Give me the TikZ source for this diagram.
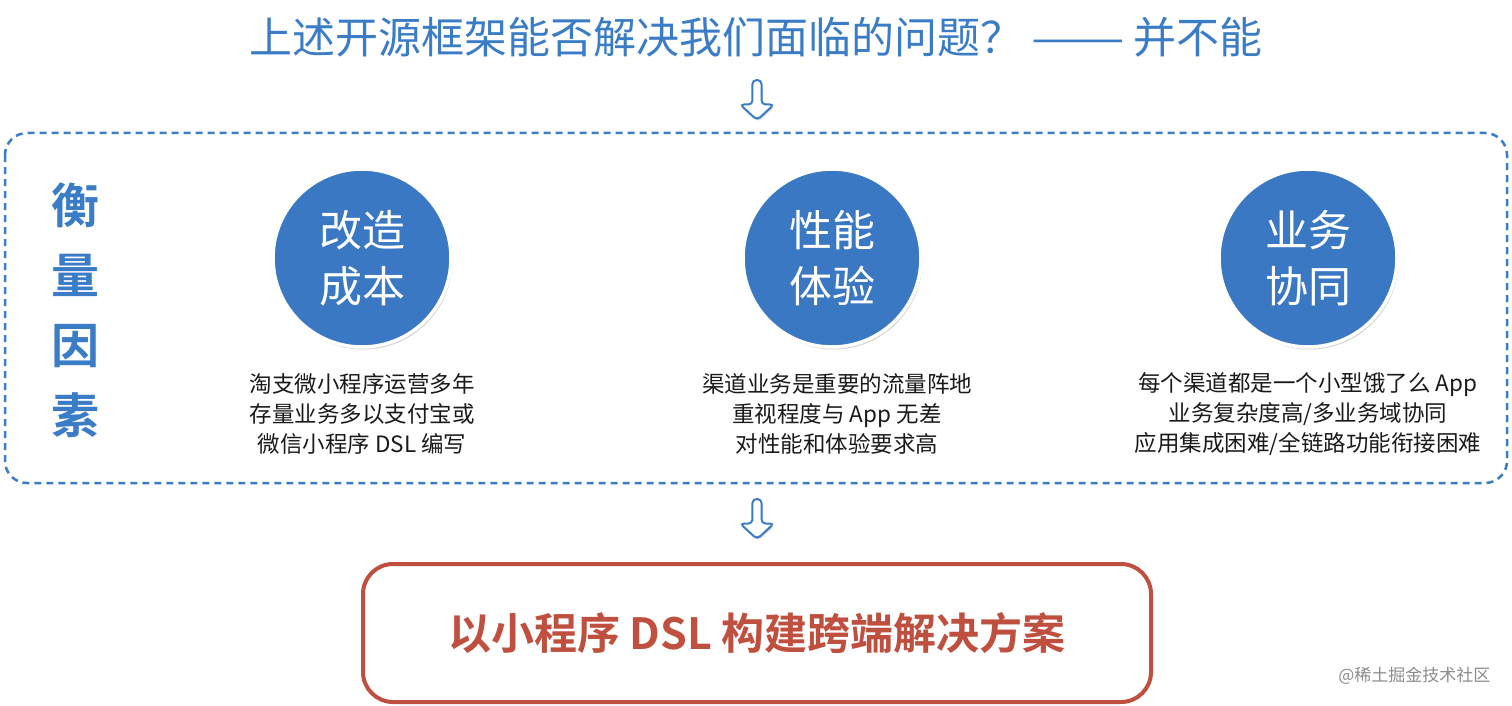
\documentclass[tikz,border=0pt]{standalone}
\usepackage{fontspec}
\usepackage{graphicx}
\newfontfamily\cjk{Noto Sans CJK SC}
\newfontfamily\cjkb{Noto Sans CJK SC Bold}
\usetikzlibrary{shapes.arrows,shadows}
\definecolor{tblue}{HTML}{3B7CC6}
\definecolor{cblue}{HTML}{3A78C3}
\definecolor{tred}{HTML}{BF4F3F}
\definecolor{ttext}{HTML}{1A1A1A}
\tikzset{
  downarrow/.style={shape=single arrow, rotate=270, draw=tblue, fill=white, line width=2pt,
    minimum height=40pt, minimum width=34pt, single arrow head extend=11pt,
    single arrow tip angle=95, rounded corners=4pt, inner sep=3pt,
    drop shadow={shadow xshift=1pt, shadow yshift=-2pt, opacity=0.35}},
  topic/.style={circle, fill=cblue, draw=white, line width=3.5pt, minimum size=178pt,
    text=white, font=\cjk\fontsize{43}{56}\selectfont, align=center, inner sep=0pt,
    drop shadow={shadow xshift=1.5pt, shadow yshift=-2.5pt, opacity=0.35}},
  desc/.style={text=ttext, font=\cjk\fontsize{22.5}{30}\selectfont, align=center},
}
\begin{document}
\begin{tikzpicture}[x=1pt,y=-1pt]
\useasboundingbox (0,0) rectangle (1512,706);
\node[text=tblue, font=\cjk\fontsize{43}{50}\selectfont] (title) at (756,37) {上述开源框架能否解决我们面临的问题？\hspace{0.2em}\scalebox{1.3}[1]{——}\hspace{0.2em}并不能};
\node[downarrow] (a1) at (757,98) {};
\draw[tblue, line width=2.5pt, dash pattern=on 7pt off 5pt, rounded corners=22pt] (5,133) rectangle (1507,483);
\node[text=tblue, font=\cjkb\fontsize{48}{70}\selectfont, align=center] (factor) at (75,310) {衡\\量\\因\\素};
\node[topic] (c1) at (362,258) {改造\\成本};
\node[topic] (c2) at (832,258) {性能\\体验};
\node[topic] (c3) at (1308,258) {业务\\协同};
\node[desc] (d1) at (362,414) {淘支微小程序运营多年\\存量业务多以支付宝或\\微信小程序 DSL 编写};
\node[desc] (d2) at (837,414) {渠道业务是重要的流量阵地\\重视程度与 App 无差\\对性能和体验要求高};
\node[desc] (d3) at (1308,414) {每个渠道都是一个小型饿了么 App\\业务复杂度高/多业务域协同\\应用集成困难/全链路功能衔接困难};
\node[downarrow] (a2) at (757,517) {};
\node[draw=tred, line width=4pt, rounded corners=30pt, minimum width=788pt, minimum height=138pt,
  text=tred, font=\cjkb\fontsize{43}{50}\selectfont] (sol) at (757,633) {以小程序 DSL 构建跨端解决方案};
\node[text=black!45, font=\cjk\fontsize{17}{20}\selectfont, anchor=east] (wm) at (1494,676) {@稀土掘金技术社区};
\end{tikzpicture}
\end{document}
